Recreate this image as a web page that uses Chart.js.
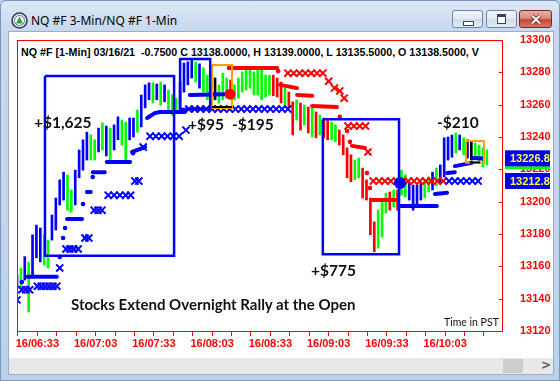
<!DOCTYPE html>
<html><head><meta charset="utf-8">
<script src="https://cdn.jsdelivr.net/npm/chart.js@4.4.1/dist/chart.umd.min.js"></script>
<style>
html,body{margin:0;padding:0;width:560px;height:381px;overflow:hidden;background:#bcd2ec;}
#frame{position:absolute;left:0;top:0;width:560px;height:381px;box-sizing:border-box;border:1px solid #7a96ba;border-radius:6px 6px 0 0;
 background:linear-gradient(to bottom,#dde8f5 0px,#c6d8ee 30px,#bcd2ec 100%);}
#content{position:absolute;left:8px;top:31px;width:544px;height:342px;background:#fff;box-shadow:0 0 0 1px #97adc8;}
#hscroll{position:absolute;left:8px;top:357px;width:544px;height:16px;background:#e8e8e8;}
#thumb{position:absolute;left:494px;top:1px;width:20px;height:14px;background:#cdcdcd;}
#arrow{position:absolute;left:532px;top:0px;font:bold 12px "DejaVu Sans";color:#606060;}
#title{position:absolute;left:30px;top:11px;font:12px "Noto Sans";color:#000;white-space:nowrap;}
.btn{position:absolute;top:9px;height:18px;box-sizing:border-box;border:1px solid #6f84a6;border-radius:3px;
 background:linear-gradient(to bottom,#f5f8fc 0%,#e1e9f4 48%,#cfdcec 52%,#e3ebf5 100%);}
#bmin{left:451px;width:31px;}
#bmax{left:485px;width:31px;}
#bclose{left:518px;width:33px;border-color:#6e2a22;background:linear-gradient(to bottom,#eab0a4 0%,#d98a7c 45%,#c4483a 55%,#d67565 100%);}
#canvasWrap{position:absolute;left:0;top:0;width:560px;height:381px;}
.note{position:absolute;font-family:Lato;font-weight:bold;color:#111;white-space:nowrap;line-height:16px;}
#hdr{position:absolute;left:21px;top:46px;width:462px;overflow:hidden;white-space:nowrap;font:bold 10.7px "Liberation Sans";line-height:12px;color:#000;}
#uline{position:absolute;left:179px;top:58px;width:31px;height:2px;background:#0000ff;}
</style></head>
<body>
<div id="frame">
 <svg style="position:absolute;left:10px;top:11px" width="17" height="17" viewBox="0 0 17 17">
  <circle cx="8.5" cy="8.5" r="7.5" fill="#e9eef5" stroke="#2c3e57" stroke-width="1.6"/>
  <circle cx="8.5" cy="8.5" r="5" fill="#ffffff" stroke="#5d6f88" stroke-width="1"/>
  <polygon points="8.5,4.5 12,11.5 5,11.5" fill="#21a336"/>
 </svg>
 <div id="title">NQ #F 3-Min/NQ #F 1-Min</div>
 <div class="btn" id="bmin"><div style="position:absolute;left:10px;top:10px;width:9px;height:3px;background:#fff;border:1px solid #33465f"></div></div>
 <div class="btn" id="bmax"><div style="position:absolute;left:10px;top:3px;width:7px;height:6px;border:1px solid #33465f;border-top-width:3px;background:#fff"></div></div>
 <div class="btn" id="bclose"><svg style="position:absolute;left:10px;top:3px" width="12" height="11"><path d="M2 1.5 L10 9.5 M10 1.5 L2 9.5" stroke="#5a1d16" stroke-width="3.6"/><path d="M2 1.5 L10 9.5 M10 1.5 L2 9.5" stroke="#ffffff" stroke-width="2"/></svg></div>
 <div id="content"></div>
 <div id="hscroll"><div id="thumb"></div><div id="arrow">&gt;</div></div>
</div>
<div id="hdr">NQ #F [1-Min] 03/16/21&nbsp; -0.7500 C 13138.0000, H 13139.0000, L 13135.5000, O 13138.5000, V</div>
<div id="uline"></div>
<div id="canvasWrap"><canvas id="c" width="560" height="381"></canvas></div>
<div class="note" style="left:34px;top:114px;font-size:15.5px">+$1,625</div>
<div class="note" style="left:188px;top:116px;font-size:15.5px">+$95</div>
<div class="note" style="left:232px;top:116px;font-size:15.5px">-$195</div>
<div class="note" style="left:311px;top:262px;font-size:15.5px">+$775</div>
<div class="note" style="left:437px;top:114px;font-size:15.5px">-$210</div>
<div class="note" style="left:71px;top:296px;font-size:15px">Stocks Extend Overnight Rally at the Open</div>
<div class="note" style="left:444px;top:316px;font-size:10.5px;font-weight:normal;line-height:12px">Time in PST</div>
<script>
// ---- time axis (minutes after 06:00) ----
const barStartMinute = 22.5;   // first 2-minute bar
const barMinutes = 2;
const xTickMinutes = [23,33,43,53,63,73,83,93,103,113,123,133,143,153,163,173,183,193,203,213,223,233,243,253,263];
const xTickLabels  = {33:'16/06:33',63:'16/07:03',93:'16/07:33',123:'16/08:03',153:'16/08:33',183:'16/09:03',213:'16/09:33',243:'16/10:03'};
const yTicks = [13120,13140,13160,13180,13200,13220,13240,13260,13280,13300];

// ---- price bars (high / low) and colour codes B=blue G=green R=red K=black ----
const barHigh = [13154.5,13159,13166,13162.5,13179.5,13185.5,13183.75,13179.5,13176.25,13191.75,
 13202.25,13213.5,13218.25,13216.5,13207.25,13219.5,13232,13238.25,13243,13241.25,
 13238.25,13245.5,13248.75,13246.75,13245.5,13247.5,13252.5,13250.5,13249.25,13251.75,
 13251.75,13256.75,13266,13272.25,13273.5,13273.5,13272.75,13274,13272.25,13269,
 13266,13264,13274,13285.75,13286.5,13287.5,13286.5,13285.25,13282.75,13278.25,
 13278.25,13276.5,13272.25,13279.5,13276.5,13275.25,13272.25,13276.5,13280.25,13281.5,
 13282.75,13280.25,13281.5,13282.75,13278.25,13278.25,13278.25,13276.5,13274,13270.25,
 13267.75,13261.75,13263,13261,13259.75,13258.5,13258,13255.5,13253.5,13251.75,
 13250.5,13249.25,13247.5,13244.25,13241.25,13233.25,13229,13225.75,13227,13220.75,
 13213.5,13202.25,13187.5,13194.75,13201,13205.25,13206,13207.25,13207.25,13219.5,
 13216.5,13211.5,13210.25,13210.25,13211.5,13213.5,13215.25,13218.25,13220.75,13222.75,
 13239.5,13240,13241.25,13242.5,13241.25,13239.5,13238.25,13237,13236.25,13235,
 13233.25,13232];
const barLow = [13145.5,13146.5,13151.5,13131.75,13153.5,13165.25,13162.75,13160.75,13159,13176.25,
 13182.5,13198,13201,13194.75,13193.5,13198,13214.75,13219.5,13225.75,13225.75,
 13225.75,13230.75,13232,13228.25,13225.75,13232,13238.25,13235,13226,13238.25,
 13240,13243,13246.25,13258,13263,13261,13263,13259.75,13261.75,13256.75,
 13253.5,13254.75,13255.5,13267.75,13272.25,13276.5,13274,13270.25,13267.75,13263,
 13259.75,13263,13261,13263,13264,13266,13263,13264,13267.75,13269,
 13270.25,13266,13266,13263,13264.75,13266,13265.5,13264.75,13261,13259.75,
 13258,13241.25,13250.5,13244.25,13247.5,13242.5,13240,13239.5,13241.25,13239.5,
 13238.25,13238.25,13237,13235,13229,13214.75,13212.25,13213.5,13214.75,13202.25,
 13201,13179.5,13169,13171.25,13178,13193,13194.75,13196.75,13194.75,13204,
 13203,13201,13194.75,13198,13201,13202.25,13206,13207.25,13209.75,13211.5,
 13215.25,13225.75,13227.5,13230,13232,13229,13227,13225.75,13227,13224.5,
 13221.5,13222.75];
const barCodes = "BGBGBBBGGB"+"BBBGGBBBBG"+"GBGBGBBGGB"+"BGBBBGBGBG"+"GGBBBBGBGG"+"GKGGGRGGGG"+
                 "GGGGGGRRRG"+"RRGRGRGRGR"+"RGGRRRRGGR"+"RRRGGGRGRG"+"GBBBBGGBGB"+"BBBGBGBKGG"+"GG";

// ---- trailing stops (null = break) ----
const blueStopTime  = [27.75,43,null, 48.25,56,null, 58.5,60.5,null, 61.5,67.75,null, 68.75,80.75,null, 81.75,88.5,null,
 89.5,93.5,96,109,null, 111.5,129.5,null, 219.75,238.75,null, 237.75,244,null, 244,248,null, 248,256.75,null, 257.25,262.5];
const blueStopPrice = [13153.5,13153.5,null, 13189.25,13189.25,null, 13206,13206,null, 13218.25,13218.25,null, 13224.5,13224.5,null, 13230.75,13233.75,null,
 13251.75,13254.75,13255.5,13255.5,null, 13266,13266.5,null, 13197.25,13197.25,null, 13204.75,13205.5,null, 13217.75,13218.25,null, 13222,13224,null, 13227,13226.75];
const blueDotTime  = [25,44.5,46.25,47.25,56.5,61.5,82.25];
const blueDotPrice = [13150.25,13165.75,13177.5,13183.75,13198.5,13215.25,13230];
const redStopTime  = [131.5,156.5,null, 158,166.75,null, 166.75,174.5,null, 174.5,187.25,null, 195,201.75,null, 205.25,218.25];
const redStopPrice = [13282.75,13282.75,null, 13272.25,13270.25,null, 13266,13265.5,null, 13259.25,13258.5,null, 13234.5,13233.25,null, 13201,13201];
const redDotTime  = [157,188.75,192.5,194,202.75,204.25];
const redDotPrice = [13280.75,13252.5,13243.75,13237,13217.75,13208.5];

// ---- stop markers (X) ----
const blueXTime = [22.5,25,27,29,33,35,37,39,41,43,44.5,47.75,49.75,51.75,54,57.5,59.5,62.25,64.25,66.25,
 69.5,72.5,75.5,78.5,81,83.25,85.25,87.5,91,94,97,100,103,106,109.5,
 111,114,117,120,123,126,129,132,135,138,141,144,147,150,153,156,159,162,
 245,248,251,254,257,260];
const blueXPrice = [13139.25,13145.5,13145.5,13145.5,13147.75,13147.75,13147.75,13147.75,13147.75,13147.75,13159,13170.75,13170.75,13170.75,13170.75,13177.5,13177.5,13194.75,13194.75,13194.75,
 13204,13204,13204,13204,13204,13212.75,13212.75,13233.75,13240.5,13240.5,13240.5,13240.5,13240.5,13240.5,13244.25,
 13257.25,13257.25,13257.25,13257.25,13257.25,13257.25,13257.25,13257.25,13257.25,13257.25,13257.25,13257.25,13257.25,13257.25,13257.25,13257.25,13257.25,13257.25,
 13212.75,13212.75,13212.75,13212.75,13212.75,13212.75];
const redXTime = [162,165,168,171,174,177,180, 183,186,188.75,191, 193,196,199,202, 203.25,
 206,209,212,215,218,221,224,227,230,233,236,239,242];
const redXPrice = [13279.5,13279.5,13279.5,13279.5,13279.5,13279.5,13279.5, 13274.5,13270.25,13268.5,13264, 13246.75,13246.75,13246.75,13246.75, 13230.75,
 13212.75,13212.75,13212.75,13212.75,13212.75,13212.75,13212.75,13212.75,13212.75,13212.75,13212.75,13212.75,13212.75];

// ---- entry / exit dots ----
const entryTime = [132.25, 219.75];
const entryPrice = [13266.5, 13211.5];

// ---- trade boxes ----
const blueBoxLeft = [36.9, 106.5, 180];
const blueBoxRight = [103.4, 122, 219.25];
const blueBoxTop = [13277.75, 13288.25, 13251];
const blueBoxBottom = [13166.5, 13257.25, 13167.5];
const orangeBoxLeft = [122.9, 253.75];
const orangeBoxRight = [133.2, 263];
const orangeBoxTop = [13284.5, 13237.5];
const orangeBoxBottom = [13258, 13224];
const blackLineTime = [122.9,133.2,null,255.75,261];
const blackLinePrice = [13258.5,13258.5,null,13224.25,13224.25];

// ---- right-axis price tags ----
const tagPrices = [13226.8, 13212.8];
const lastPrice = 13221;

// ---------- build ----------
const colorOf = {B:'#0000FF', G:'#00FF00', R:'#FF0000', K:'#000000'};
const bars = barHigh.map((h,i)=>({x: barStartMinute + barMinutes*i, y:[barLow[i], h]}));
const barColors = barHigh.map((h,i)=>colorOf[barCodes[i]] || '#00FF00');
const pts = (ts, ps) => ts.map((t,i)=>({x: t===null ? NaN : t, y: ps[i]}));
function boxes(L,R,T,B){ const out=[]; L.forEach((l,i)=>{ if(i) out.push({x:NaN,y:null});
  out.push({x:l,y:T[i]},{x:R[i],y:T[i]},{x:R[i],y:B[i]},{x:l,y:B[i]},{x:l,y:T[i]}); }); return out; }

const lineBase = {type:'line', pointRadius:0, fill:false, spanGaps:false, tension:0};
const chart = new Chart(document.getElementById('c'), {
 type:'bar',
 data:{datasets:[
  {type:'bar', data:bars, backgroundColor:barColors, barThickness:2, order:10},
  {...lineBase, data:boxes(blueBoxLeft,blueBoxRight,blueBoxTop,blueBoxBottom), borderColor:'#0000FF', borderWidth:2.5, order:3},
  {...lineBase, data:boxes(orangeBoxLeft,orangeBoxRight,orangeBoxTop,orangeBoxBottom), borderColor:'#FFA000', borderWidth:2, order:3},
  {...lineBase, data:pts(blackLineTime,blackLinePrice), borderColor:'#000000', borderWidth:2, order:2},
  {...lineBase, data:pts(blueStopTime,blueStopPrice), borderColor:'#0000FF', borderWidth:4, borderCapStyle:'round', order:4},
  {...lineBase, data:pts(redStopTime,redStopPrice), borderColor:'#FF0000', borderWidth:4, borderCapStyle:'round', order:4},
  {type:'scatter', data:pts(blueDotTime,blueDotPrice), pointRadius:2.3, backgroundColor:'#0000FF', borderWidth:0, order:4},
  {type:'scatter', data:pts(redDotTime,redDotPrice), pointRadius:2.3, backgroundColor:'#FF0000', borderWidth:0, order:4},
  {type:'scatter', data:pts(blueXTime,blueXPrice), pointStyle:'crossRot', pointRadius:5, borderColor:'#0000FF', borderWidth:2, order:5},
  {type:'scatter', data:pts(redXTime,redXPrice), pointStyle:'crossRot', pointRadius:5, borderColor:'#FF0000', borderWidth:2, order:5},
  {type:'scatter', data:[{x:entryTime[0],y:entryPrice[0]}], pointRadius:5.5, backgroundColor:'#FF0000', borderWidth:0, order:1},
  {type:'scatter', data:[{x:entryTime[1],y:entryPrice[1]}], pointRadius:6, backgroundColor:'#0000FF', borderWidth:0, order:1}
 ]},
 options:{
  responsive:false, animation:false, devicePixelRatio:1, events:[],
  layout:{padding:{left:17, top:40, right:0, bottom:0}},
  plugins:{legend:{display:false}, tooltip:{enabled:false}},
  scales:{
   x:{type:'linear', min:22.5, max:272.8, offset:false,
      afterBuildTicks:s=>{ s.ticks = xTickMinutes.map(v=>({value:v})); },
      afterFit:s=>{ s.height = 50; },
      grid:{display:true, drawOnChartArea:false, drawTicks:true, tickLength:5, color:'#FF0000', offset:false},
      border:{display:false},
      ticks:{autoSkip:false, maxRotation:0, padding:1, color:'#FF0000',
        font:{family:'Liberation Sans', size:11, weight:'bold'},
        callback:v=> xTickLabels[v] || ''}},
   y:{type:'linear', position:'right', min:13120, max:13300,
      afterBuildTicks:s=>{ s.ticks = yTicks.map(v=>({value:v})); },
      afterFit:s=>{ s.width = 57; },
      grid:{display:false}, border:{display:false},
      ticks:{padding:9, color:'#FF0000', font:{family:'Liberation Sans', size:11, weight:'bold'},
        callback:v=> String(v)}}
  }
 },
 plugins:[{
  id:'frameAndTags',
  afterDraw(ch){
   const {ctx, chartArea:a, scales:{y}} = ch;
   ctx.save();
   ctx.strokeStyle='#FF0000'; ctx.lineWidth=1;
   ctx.strokeRect(a.left+0.5, a.top+0.5, a.right-a.left-1, a.bottom-a.top);
   yTicks.forEach(v=>{ const py=Math.round(y.getPixelForValue(v))+0.5;
     ctx.beginPath(); ctx.moveTo(a.right-4,py); ctx.lineTo(a.right,py); ctx.stroke(); });
   ctx.beginPath(); ctx.rect(a.right+2, 0, 550-a.right-2, ch.height); ctx.clip();
   const gy = y.getPixelForValue(lastPrice);
   ctx.fillStyle='#00FF00'; ctx.fillRect(a.right+2, gy-1.5, 50, 3);
   ctx.font='bold 11px "Liberation Sans"'; ctx.textBaseline='middle';
   tagPrices.forEach(p=>{ const py=y.getPixelForValue(p);
     ctx.fillStyle='#0000EE'; ctx.fillRect(a.right+2, py-8, 50, 16);
     ctx.fillStyle='#FFFF40'; ctx.fillText(p.toFixed(1), a.right+7, py+0.5); });
   ctx.restore();
  }
 }]
});
</script>
</body></html>
